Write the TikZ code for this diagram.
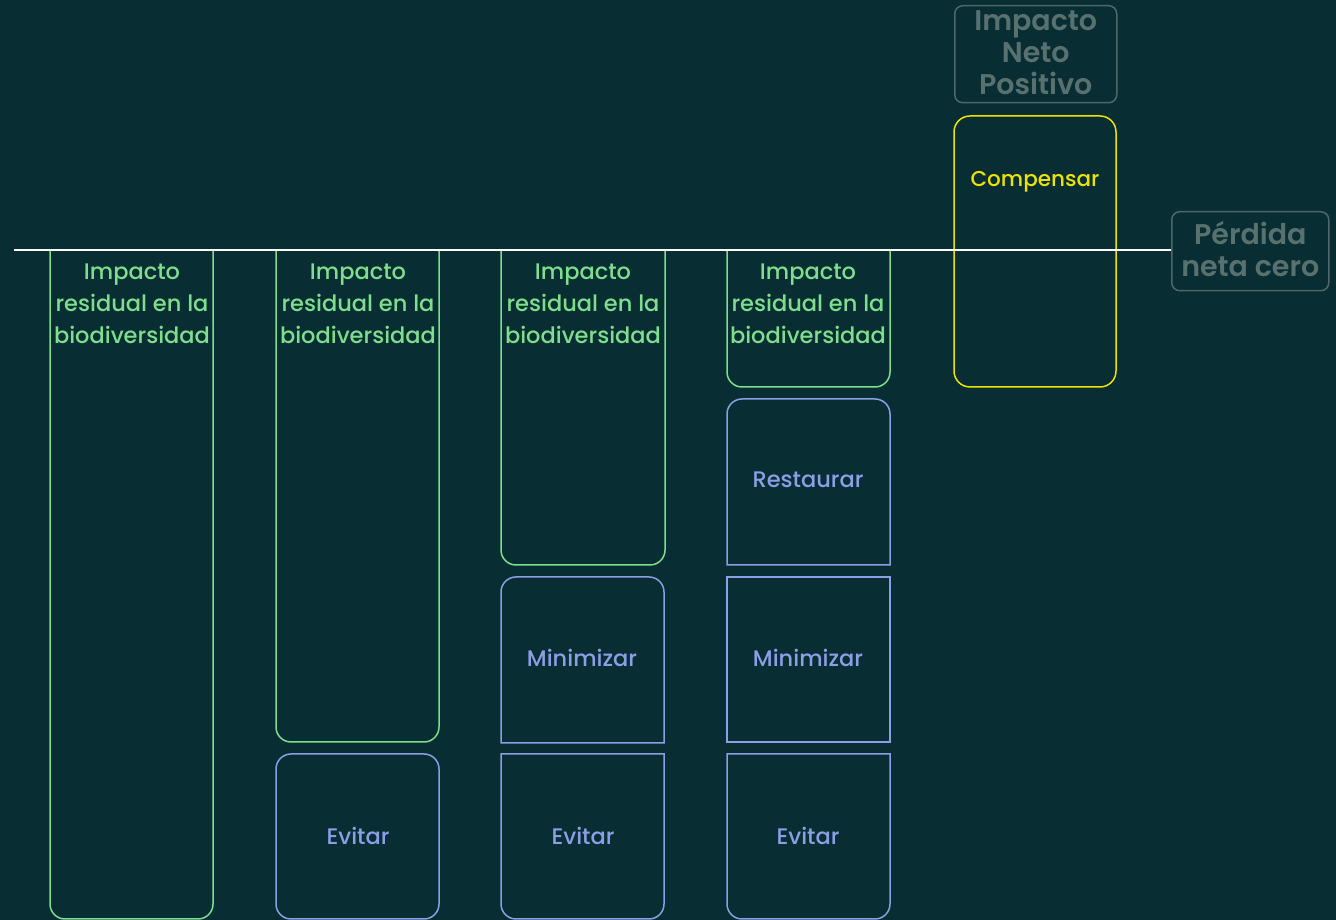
\documentclass[tikz,border=0pt]{standalone}
\usepackage{fontspec}
\setmainfont{Poppins Medium}
\newfontfamily\popsb{Poppins SemiBold}
\definecolor{bgc}{HTML}{082E33}
\definecolor{grn}{HTML}{7DDE8C}
\definecolor{blu}{HTML}{8B9EE6}
\definecolor{ylw}{HTML}{EDE300}
\definecolor{gtx}{HTML}{58716F}
\definecolor{gbx}{HTML}{4E6869}
\newcommand{\bxBottomR}[5]{% x1 ytop x2 ybot color (image coords)
  \draw[#5] (#1,920-#2) -- (#1,920-#4+15) arc[start angle=180,end angle=270,radius=15] -- (#3-15,920-#4) arc[start angle=270,end angle=360,radius=15] -- (#3,920-#2) -- cycle;}
\newcommand{\bxTopR}[5]{%
  \draw[#5] (#1,920-#4) -- (#1,920-#2-15) arc[start angle=180,end angle=90,radius=15] -- (#3-15,920-#2) arc[start angle=90,end angle=0,radius=15] -- (#3,920-#4) -- cycle;}
\tikzset{
  boxline/.style={line width=1.5pt},
  gtext/.style={text=grn, font=\fontsize{22.5}{32}\selectfont, align=center, inner sep=0pt},
  btext/.style={text=blu, font=\fontsize{22.5}{32}\selectfont, inner sep=0pt},
  ytext/.style={text=ylw, font=\fontsize{21.5}{32}\selectfont, inner sep=0pt},
  graybox/.style={draw=gbx, line width=1.5pt, rounded corners=8pt, anchor=north west, inner sep=0pt},
  graytext/.style={text=gtx, font=\popsb\fontsize{28.5}{32}\selectfont, align=center, inner sep=0pt},
}
\begin{document}
\begin{tikzpicture}[x=1pt,y=1pt]
\fill[bgc] (0,0) rectangle (1336,920);
\useasboundingbox (0,0) rectangle (1336,920);
% column 1
\bxBottomR{50}{250}{213}{919}{grn,boxline}
% column 2
\bxBottomR{276}{250}{439}{742}{grn,boxline}
\draw[blu,boxline,rounded corners=15pt] (276,920-754) rectangle (439,920-919);
% column 3
\bxBottomR{501}{250}{665}{565}{grn,boxline}
\bxTopR{501}{577}{664}{743}{blu,boxline}
\bxBottomR{501}{754}{664}{919}{blu,boxline}
% column 4
\bxBottomR{727}{250}{890}{387}{grn,boxline}
\bxTopR{727}{399}{890}{565}{blu,boxline}
\draw[blu,boxline] (727,920-577) rectangle (890,920-742);
\bxBottomR{727}{754}{890}{919}{blu,boxline}
% column 5
\draw[ylw,boxline,rounded corners=16pt] (954,920-116) rectangle (1116,920-387);
% texts
\node[gtext] (r1) at (132,920-303.5) {Impacto\\residual en la\\biodiversidad};
\node[gtext] (r2) at (358,920-303.5) {Impacto\\residual en la\\biodiversidad};
\node[gtext] (r3) at (583,920-303.5) {Impacto\\residual en la\\biodiversidad};
\node[gtext] (r4) at (808,920-303.5) {Impacto\\residual en la\\biodiversidad};
\node[btext] (e2) at (358,920-836) {Evitar};
\node[btext] (e3) at (583,920-836) {Evitar};
\node[btext] (e4) at (808,920-836) {Evitar};
\node[btext] (m3) at (582,920-658) {Minimizar};
\node[btext] (m4) at (808,920-658) {Minimizar};
\node[btext] (rs) at (808,920-480) {Restaurar};
\node[ytext] (cp) at (1035,920-182) {Compensar};
% gray labels
\node[graybox, minimum width=162pt, minimum height=97pt] (inp) at (954,920-5) {};
\node[graytext] (inpt) at ([yshift=1.5pt]inp.center) {Impacto\\Neto\\Positivo};
\node[graybox, minimum width=157pt, minimum height=79pt] (pnc) at (1171,920-211) {};
\node[graytext] (pnct) at ([yshift=2.5pt]pnc.center) {Pérdida\\neta cero};
% baseline
\coordinate (ls) at (14,920-250.5);
\draw[white, line width=2pt] (ls) -- (pnc.west |- ls);
\end{tikzpicture}
\end{document}
